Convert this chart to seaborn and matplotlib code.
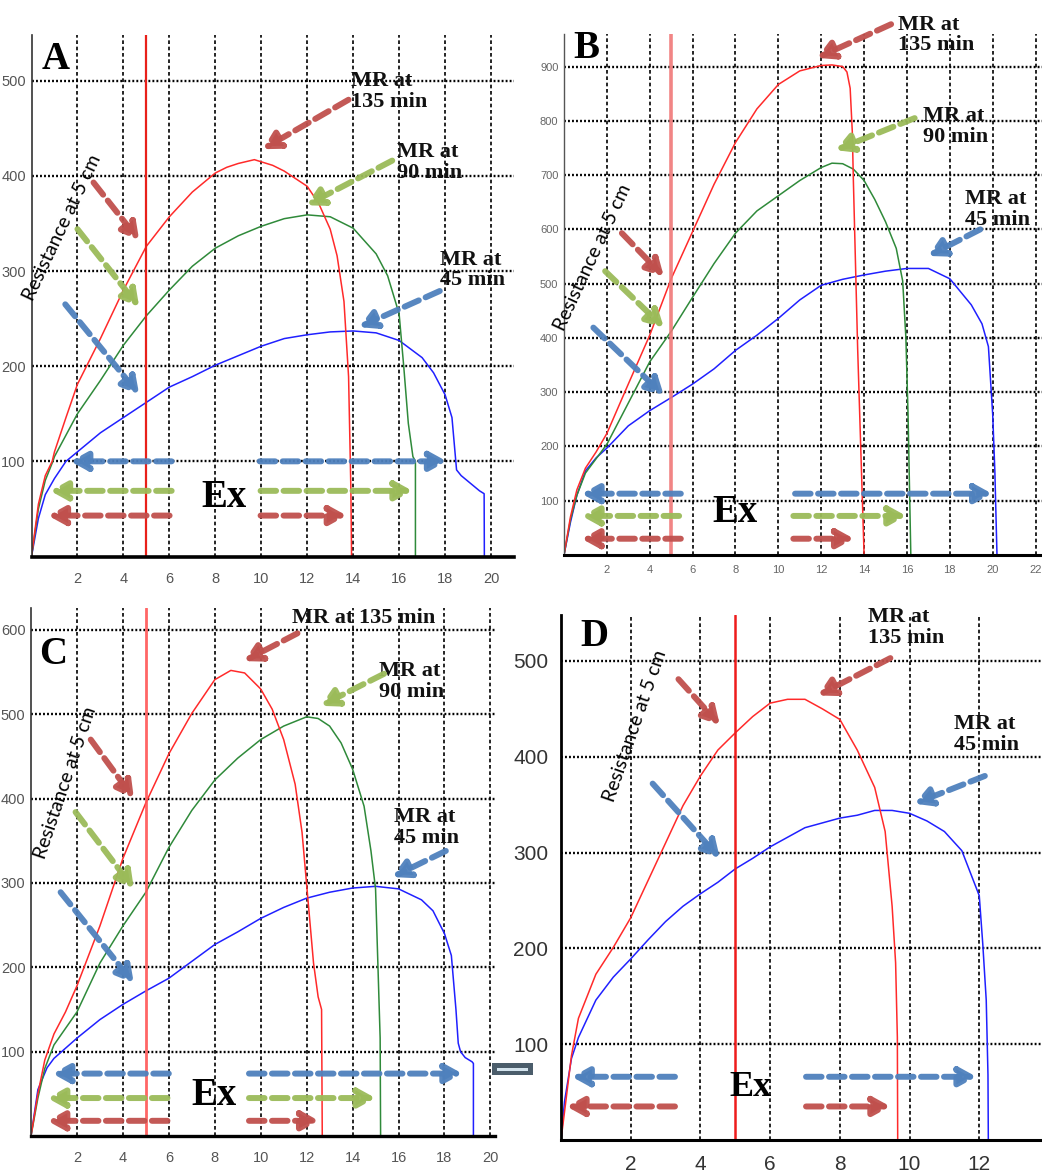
import matplotlib
matplotlib.use("Agg")
import numpy as np
import pandas as pd
import matplotlib.pyplot as plt
import seaborn as sns
from matplotlib.patches import Rectangle

# ---------------- data ----------------
# Panel A
a_red_x = [0, 0.3, 0.6, 0.9, 1.0, 1.5, 2.0, 3.0, 4.0, 5.0, 6.0, 7.0, 8.0, 8.5, 9.0, 9.7, 10.5, 11.0, 12.0, 12.5, 13.0, 13.3, 13.6, 13.8, 13.9, 13.93]
a_red_y = [0, 55, 85, 100, 110, 146, 181, 229, 280, 326, 357, 383, 403, 409, 413, 417, 411, 405, 389, 371, 344, 316, 268, 189, 71, 0]
a_grn_x = [0, 0.3, 0.6, 0.93, 1.0, 2.0, 3.0, 4.0, 5.0, 6.0, 7.0, 8.0, 9.0, 10.0, 11.0, 12.0, 13.0, 14.0, 15.0, 15.5, 16.0, 16.2, 16.4, 16.6, 16.71, 16.71]
a_grn_y = [0, 50, 80, 100, 105, 150, 185, 222, 253, 280, 305, 324, 337, 347, 355, 359, 357, 345, 318, 295, 255, 200, 140, 105, 100, 0]
a_blu_x = [0, 0.3, 0.6, 1.0, 1.5, 2, 3, 4, 5, 6, 7, 8, 9, 10, 11, 12, 13, 14, 15, 16, 17, 17.5, 18, 18.3, 18.5, 18.7, 19.0, 19.5, 19.7, 19.71]
a_blu_y = [0, 40, 65, 82, 100, 110, 130, 146, 162, 178, 189, 201, 211, 221, 229, 233, 236, 237, 235, 227, 209, 193, 170, 146, 91, 85, 79, 69, 66, 0]

# Panel B
b_red_x = [0, 0.3, 0.6, 1.0, 1.5, 2, 3, 4, 5, 6, 7, 8, 9, 10, 11, 12, 12.5, 13.0, 13.2, 13.35, 13.45, 13.5, 13.7, 14.0]
b_red_y = [0, 70, 120, 160, 190, 224, 315, 405, 509, 596, 683, 760, 822, 867, 892, 902, 903, 900, 890, 860, 780, 690, 380, 0]
b_grn_x = [0, 0.3, 0.6, 1.0, 2, 3, 4, 5, 6, 7, 8, 9, 10, 11, 12, 12.5, 13, 13.5, 14, 14.5, 15, 15.5, 15.8, 15.95, 16.05, 16.12, 16.18]
b_grn_y = [0, 65, 110, 151, 204, 280, 356, 412, 475, 537, 593, 634, 662, 690, 714, 722, 721, 711, 690, 655, 614, 565, 505, 400, 260, 120, 0]
b_blu_x = [0, 0.3, 0.6, 1.0, 1.5, 2, 3, 4, 5, 6, 7, 8, 9, 10, 11, 12, 13, 14, 15, 16, 17, 18, 19, 19.5, 19.8, 20.0, 20.1, 20.2]
b_blu_y = [0, 60, 110, 155, 179, 197, 238, 266, 290, 315, 343, 377, 405, 436, 470, 497, 508, 516, 523, 528, 528, 509, 461, 426, 384, 259, 155, 0]

# Panel C
c_red_x = [0, 0.3, 0.6, 1.0, 1.5, 2, 3, 4, 5, 6, 7, 8, 8.7, 9.3, 10, 10.5, 11, 11.5, 11.8, 12.0, 12.3, 12.5, 12.65, 12.68]
c_red_y = [0, 50, 90, 121, 147, 178, 249, 329, 395, 453, 501, 541, 552, 549, 530, 506, 470, 417, 360, 298, 205, 165, 150, 0]
c_grn_x = [0, 0.3, 0.6, 1.0, 2, 3, 4, 5, 6, 7, 8, 9, 10, 11, 12, 12.5, 13, 13.5, 14, 14.5, 14.8, 15.0, 15.1, 15.2, 15.22]
c_grn_y = [0, 45, 80, 108, 147, 205, 249, 289, 342, 386, 422, 448, 470, 486, 497, 495, 486, 466, 435, 391, 338, 293, 205, 116, 0]
c_blu_x = [0, 0.3, 0.7, 1.0, 2, 3, 4, 5, 6, 7, 8, 9, 10, 11, 12, 13, 14, 15, 16, 17, 17.5, 18, 18.3, 18.5, 18.6, 18.7, 18.9, 19.2, 19.26, 19.26]
c_blu_y = [0, 55, 81, 92, 116, 138, 156, 172, 187, 207, 227, 242, 258, 271, 282, 289, 294, 296, 293, 280, 267, 240, 214, 150, 110, 100, 93, 88, 86, 0]

# Panel D
d_red_x = [0, 0.1, 0.3, 0.5, 1.0, 1.5, 2, 2.5, 3, 3.5, 4, 4.5, 5, 5.5, 6, 6.5, 7, 7.5, 8, 8.5, 9, 9.3, 9.5, 9.6, 9.65, 9.66]
d_red_y = [0, 29, 88, 127, 173, 201, 232, 271, 310, 349, 380, 407, 425, 442, 456, 460, 460, 450, 439, 407, 368, 322, 244, 185, 107, 0]
d_blu_x = [0, 0.1, 0.3, 0.5, 1.0, 1.5, 2, 2.5, 3, 3.5, 4, 4.5, 5, 5.5, 6, 6.5, 7, 7.5, 8, 8.5, 9, 9.5, 10, 10.5, 11, 11.5, 12, 12.1, 12.2, 12.25, 12.26]
d_blu_y = [0, 40, 85, 107, 146, 170, 189, 209, 228, 244, 257, 269, 283, 294, 306, 316, 326, 331, 336, 339, 344, 344, 341, 333, 322, 302, 255, 205, 146, 68, 0]

series_names = ["MR at 45 min", "MR at 90 min", "MR at 135 min"]
ref_x = 5  # measurement position (cm)

ticks_a_x = [2, 4, 6, 8, 10, 12, 14, 16, 18, 20]
ticks_a_y = [100, 200, 300, 400, 500]
ticks_b_x = [2, 4, 6, 8, 10, 12, 14, 16, 18, 20, 22]
ticks_b_y = [100, 200, 300, 400, 500, 600, 700, 800, 900]
ticks_c_x = [2, 4, 6, 8, 10, 12, 14, 16, 18, 20]
ticks_c_y = [100, 200, 300, 400, 500, 600]
ticks_d_x = [2, 4, 6, 8, 10, 12]
ticks_d_y = [100, 200, 300, 400, 500]

# ---------------- style ----------------
sns.set_style("white")
plt.rcParams["font.family"] = ["DejaVu Sans"]

LINE_COL = {"MR at 45 min": "#2020ff", "MR at 90 min": "#2f8a3a", "MR at 135 min": "#ff2a2a"}
ARW = {"r": "#c0504d", "g": "#9bbb59", "b": "#4f81bd"}
SERIF = "Liberation Serif"
SANS = "Lato"
NARROW = ["Liberation Sans Narrow", "DejaVu Sans Condensed", "Liberation Sans"]


def frame(xs, ys, names):
    parts = []
    for x, y, n in zip(xs, ys, names):
        parts.append(pd.DataFrame({"x": x, "y": y, "series": n}))
    return pd.concat(parts, ignore_index=True)


W, H = 1042, 1174
fig = plt.figure(figsize=(W / 100, H / 100), dpi=100)


def px_rect(l, r, t, b):
    return [l / W, 1 - b / H, (r - l) / W, (b - t) / H]


def setup(ax, xlim, ylim, xt, yt, fs, family, color, padx, pady, left_lw, left_col, bottom_lw):
    ax.set_xlim(*xlim)
    ax.set_ylim(*ylim)
    ax.set_xticks(xt)
    ax.set_yticks(yt)
    ax.set_xticklabels([str(v) for v in xt], fontsize=fs, family=family, color=color)
    ax.set_yticklabels([str(v) for v in yt], fontsize=fs, family=family, color=color)
    ax.tick_params(axis="both", length=0)
    ax.tick_params(axis="x", pad=padx)
    ax.tick_params(axis="y", pad=pady)
    ax.xaxis.grid(True, linestyle=(0, (2.2, 1.6)), color="black", lw=1.2)
    ax.yaxis.grid(True, linestyle=(0, (0.8, 0.9)), color="black", lw=1.7)
    for s in ["top", "right"]:
        ax.spines[s].set_visible(False)
    ax.spines["left"].set_linewidth(left_lw)
    ax.spines["left"].set_color(left_col)
    ax.spines["bottom"].set_linewidth(bottom_lw)
    ax.spines["bottom"].set_color("black")
    ax.set_xlabel("")
    ax.set_ylabel("")
    ax.set_facecolor("white")


def arrow(ax, start, end, c, lw=4.3):
    ax.annotate("", xy=end, xytext=start,
                arrowprops=dict(arrowstyle="-|>,head_length=1.0,head_width=0.55",
                                color=ARW[c], lw=lw, linestyle=(0, (2.6, 1.25)),
                                shrinkA=0, shrinkB=0, mutation_scale=10, alpha=0.95),
                annotation_clip=False)


def along_text(ax, p0, p1, s, fs):
    a = ax.transData.transform(p0)
    b = ax.transData.transform(p1)
    ang = np.degrees(np.arctan2(b[1] - a[1], b[0] - a[0]))
    mx, my = (p0[0] + p1[0]) / 2, (p0[1] + p1[1]) / 2
    ax.text(mx, my, s, rotation=ang, rotation_mode="anchor", ha="center", va="center",
            fontsize=fs, family=SANS, color="black")


def mr(ax, x, y, s, fs=16):
    ax.text(x, y, s, ha="left", va="center", fontsize=fs, family=SERIF, fontweight="bold",
            linespacing=1.05, color="#111111")


def big(ax, x, y, s, fs=28, ha="left"):
    ax.text(x, y, s, ha=ha, va="center", fontsize=fs, family=SERIF, fontweight="bold", color="black")


def curves(ax, df):
    sns.lineplot(data=df, x="x", y="y", hue="series", palette=LINE_COL, sort=False,
                 estimator=None, units="series", legend=False, ax=ax, lw=1.1)


# ---------------- Panel A ----------------
axA = fig.add_axes(px_rect(31.5, 514, 35, 556.5))
curves(axA, frame([a_blu_x, a_grn_x, a_red_x], [a_blu_y, a_grn_y, a_red_y], series_names))
setup(axA, (0, 21.0), (0, 548), ticks_a_x, ticks_a_y, 10.5, NARROW, "#555555", 11, 4, 1.2, "#333333", 2.6)
axA.axvline(ref_x, color="#e8201a", lw=1.6)
big(axA, 0.45, 522, "A")
mr(axA, 13.9, 489, "MR at\n135 min")
mr(axA, 15.9, 414, "MR at\n90 min")
mr(axA, 17.8, 301, "MR at\n45 min")
arrow(axA, (13.8, 480), (10.06, 428), "r")
arrow(axA, (15.7, 416), (11.96, 369), "g")
arrow(axA, (17.77, 279), (14.25, 241), "b")
arrow(axA, (2.7, 393), (4.69, 332), "r")
arrow(axA, (2.0, 344), (4.69, 262), "g")
arrow(axA, (1.47, 265), (4.69, 170), "b")
arrow(axA, (6.1, 100), (1.69, 100), "b")
arrow(axA, (9.93, 100), (18.08, 100), "b")
arrow(axA, (6.1, 69), (0.81, 69), "g")
arrow(axA, (9.97, 69), (16.58, 69), "g")
arrow(axA, (6.01, 43), (0.72, 43), "r")
arrow(axA, (9.97, 43), (13.72, 43), "r")
big(axA, 8.39, 62, "Ex", ha="center")
along_text(axA, (-0.36, 260), (3.02, 432), "Resistance at 5 cm", 14)

# ---------------- Panel B ----------------
axB = fig.add_axes(px_rect(564, 1042, 34, 555))
curves(axB, frame([b_blu_x, b_grn_x, b_red_x], [b_blu_y, b_grn_y, b_red_y], series_names))
setup(axB, (0, 22.3), (0, 960), ticks_b_x, ticks_b_y, 8, NARROW, "#666666", 7, 4, 1.0, "#555555", 2.2)
axB.axvline(ref_x, color="#f07878", lw=2.6, alpha=0.9)
big(axB, 0.42, 933, "B")
mr(axB, 15.6, 958, "MR at\n135 min")
mr(axB, 16.75, 789, "MR at\n90 min")
mr(axB, 18.7, 637, "MR at\n45 min")
arrow(axB, (15.26, 978), (11.8, 916), "r")
arrow(axB, (16.36, 805), (12.67, 746), "g")
arrow(axB, (19.42, 600), (16.99, 551), "b")
arrow(axB, (2.7, 593), (4.66, 513), "r")
arrow(axB, (1.92, 523), (4.66, 419), "g")
arrow(axB, (1.37, 419), (4.66, 294), "b")
arrow(axB, (5.45, 113), (0.82, 113), "b")
arrow(axB, (10.78, 113), (19.97, 113), "b")
arrow(axB, (5.37, 72), (0.82, 72), "g")
arrow(axB, (10.7, 72), (15.97, 72), "g")
arrow(axB, (5.45, 30), (0.82, 30), "r")
arrow(axB, (10.7, 30), (13.53, 30), "r")
big(axB, 7.96, 79, "Ex", ha="center")
along_text(axB, (-0.44, 398), (3.09, 697), "Resistance at 5 cm", 14)

# ---------------- Panel C ----------------
axC = fig.add_axes(px_rect(31, 495, 608, 1136))
curves(axC, frame([c_blu_x, c_grn_x, c_red_x], [c_blu_y, c_grn_y, c_red_y], series_names))
setup(axC, (0, 20.2), (0, 626), ticks_c_x, ticks_c_y, 10.5, NARROW, "#555555", 11, 4, 1.2, "#333333", 2.4)
axC.axvline(ref_x, color="#ff5555", lw=2.0, alpha=0.9)
big(axC, 0.35, 571, "C")
mr(axC, 11.38, 614, "MR at 135 min")
mr(axC, 15.15, 539, "MR at\n90 min")
mr(axC, 15.8, 366, "MR at\n45 min")
arrow(axC, (11.6, 596), (9.27, 563), "r")
arrow(axC, (15.37, 548), (12.61, 510), "g")
arrow(axC, (18.06, 338), (15.73, 307), "b")
arrow(axC, (2.6, 470), (4.48, 400), "r")
arrow(axC, (1.94, 384), (4.48, 293), "g")
arrow(axC, (1.29, 289), (4.48, 181), "b")
arrow(axC, (6.0, 74), (0.93, 74), "b")
arrow(axC, (9.49, 74), (18.78, 74), "b")
arrow(axC, (5.94, 45), (0.71, 45), "g")
arrow(axC, (9.49, 45), (15.0, 45), "g")
arrow(axC, (5.94, 18), (0.71, 18), "r")
arrow(axC, (9.49, 18), (12.54, 18), "r")
big(axC, 7.97, 48, "Ex", ha="center")
along_text(axC, (0.28, 320), (2.74, 517), "Resistance at 5 cm", 14)

# ---------------- Panel D ----------------
axD = fig.add_axes(px_rect(561, 1042, 615, 1140))
curves(axD, frame([d_blu_x, d_red_x], [d_blu_y, d_red_y], [series_names[0], series_names[2]]))
setup(axD, (0, 13.8), (0, 548), ticks_d_x, ticks_d_y, 15, ["Liberation Sans", "DejaVu Sans"], "#333333", 11, 9, 2.0, "black", 2.2)
axD.axvline(ref_x, color="#ee1c1c", lw=1.8)
big(axD, 0.55, 526, "D")
mr(axD, 8.8, 535, "MR at\n135 min")
mr(axD, 11.27, 423, "MR at\n45 min")
arrow(axD, (9.45, 503), (7.37, 464), "r")
arrow(axD, (12.16, 380), (10.14, 351), "b")
arrow(axD, (3.37, 481), (4.56, 433), "r")
arrow(axD, (2.63, 372), (4.56, 294), "b")
arrow(axD, (3.27, 66), (0.31, 66), "b")
arrow(axD, (7.03, 66), (11.92, 66), "b")
arrow(axD, (3.27, 35), (0.16, 35), "r")
arrow(axD, (7.03, 35), (9.45, 35), "r")
big(axD, 5.44, 55, "Ex", fs=26, ha="center")
along_text(axD, (1.29, 345), (2.97, 520), "Resistance at 5 cm", 14)

# small connector glyph between C and D
fig.add_artist(Rectangle((492 / W, 1 - 1075 / H), 41 / W, 12 / H, transform=fig.transFigure,
                         facecolor="#4b5d6b", edgecolor="none"))
fig.add_artist(Rectangle((497 / W, 1 - 1071 / H), 31 / W, 3 / H, transform=fig.transFigure,
                         facecolor="#d4e4ee", edgecolor="none"))

fig.savefig("out.png", dpi=100, facecolor="white")
